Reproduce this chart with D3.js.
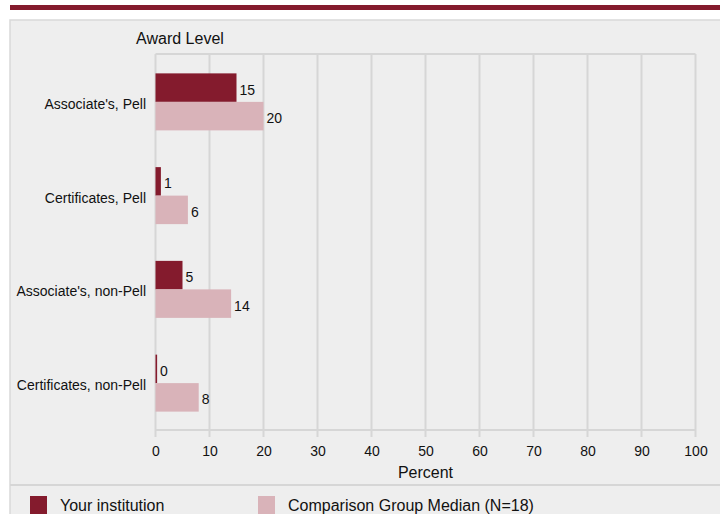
<!DOCTYPE html>
<html><head><meta charset="utf-8">
<script src="https://cdn.jsdelivr.net/npm/d3@7"></script>
<style>body{margin:0;background:#fff;font-family:"Liberation Sans",Arial,sans-serif;}</style>
</head><body>
<svg id="c" width="720" height="514"></svg>
<script>
const categories = ["Associate's, Pell", "Certificates, Pell", "Associate's, non-Pell", "Certificates, non-Pell"];
const seriesNames = ["Your institution", "Comparison Group Median (N=18)"];
const yourInstitution = [15, 1, 5, 0.3];
const comparisonMedian = [20, 6, 14, 8];
const xTicks = [0,10,20,30,40,50,60,70,80,90,100];
const colors = ["#841b2d", "#d9b3b9"];

const svg = d3.select("#c");
const font = "'Liberation Sans', Arial, sans-serif";
const txt = "#111";
// top band
svg.append("rect").attr("x",10).attr("y",5).attr("width",710).attr("height",5).attr("fill","#841b2d");
// panel
svg.append("rect").attr("x",10).attr("y",20).attr("width",720).attr("height",500).attr("fill","#eeeeee").attr("stroke","#d9d9d9").attr("stroke-width",1.5);
svg.append("line").attr("x1",10).attr("x2",720).attr("y1",485).attr("y2",485).attr("stroke","#d6d6d6").attr("stroke-width",2);

const x = d3.scaleLinear().domain([0,100]).range([155.5,695.5]);
const y0 = d3.scaleBand().domain(categories).range([55,430]);
const y1 = d3.scaleBand().domain([0,1]).range([y0.bandwidth()/2-28.5, y0.bandwidth()/2+28.5]);

// grid
const g = svg.append("g");
g.selectAll("line.grid").data(xTicks).enter().append("line")
  .attr("x1",d=>x(d)).attr("x2",d=>x(d)).attr("y1",54).attr("y2",437)
  .attr("stroke","#d6d6d6").attr("stroke-width",2);
g.append("line").attr("x1",x(0)).attr("x2",x(100)).attr("y1",54).attr("y2",54).attr("stroke","#d6d6d6").attr("stroke-width",2);
g.append("line").attr("x1",x(0)).attr("x2",x(100)).attr("y1",430).attr("y2",430).attr("stroke","#d6d6d6").attr("stroke-width",2);

// axis labels
const ax = svg.append("g").attr("transform","translate(0,437)").call(d3.axisBottom(x).tickValues(xTicks).tickSize(0).tickPadding(9));
ax.select(".domain").remove();
ax.selectAll("text").attr("font-family",font).attr("font-size",14).attr("fill",txt);

svg.append("text").attr("x",x(50)).attr("y",478).attr("text-anchor","middle").attr("font-family",font).attr("font-size",16).attr("fill",txt).text("Percent");
svg.append("text").attr("x",180).attr("y",44).attr("text-anchor","middle").attr("font-family",font).attr("font-size",16).attr("fill",txt).text("Award Level");

// category labels
svg.selectAll("text.cat").data(categories).enter().append("text")
  .attr("x",146).attr("y",d=>y0(d)+y0.bandwidth()/2+2).attr("dy","0.35em")
  .attr("text-anchor","end").attr("font-family",font).attr("font-size",14).attr("fill",txt).text(d=>d);

const series = [yourInstitution, comparisonMedian];
const fmt = d3.format(".0f");
series.forEach((vals,si)=>{
  const gg = svg.append("g");
  gg.selectAll("rect").data(vals).enter().append("rect")
    .attr("x",x(0)).attr("y",(d,i)=>y0(categories[i])+y1(si))
    .attr("width",d=>x(d)-x(0)).attr("height",y1.bandwidth()).attr("fill",colors[si]);
  gg.selectAll("text").data(vals).enter().append("text")
    .attr("x",d=>x(d)+3).attr("y",(d,i)=>y0(categories[i])+y1(si)+y1.bandwidth()/2+2).attr("dy","0.35em")
    .attr("font-family",font).attr("font-size",14).attr("fill",txt).text(d=>fmt(d));
});

// legend
const legX = [30, 258];
seriesNames.forEach((n,i)=>{
  svg.append("rect").attr("x",legX[i]).attr("y",496).attr("width",17).attr("height",18).attr("fill",colors[i]);
  svg.append("text").attr("x",legX[i]+30).attr("y",505).attr("dy","0.35em").attr("font-family",font).attr("font-size",16).attr("fill",txt).text(n);
});
</script>
</body></html>
